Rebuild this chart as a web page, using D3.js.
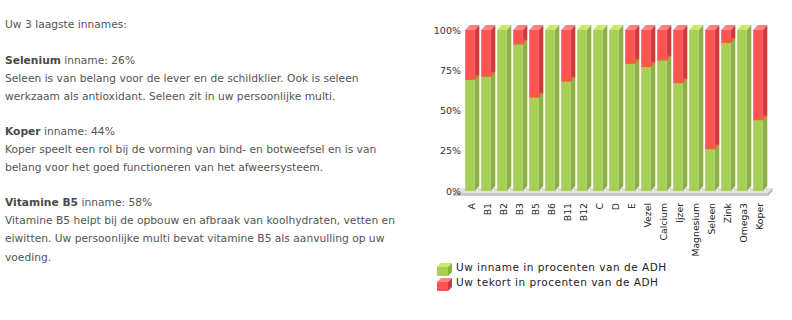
<!DOCTYPE html>
<html>
<head>
<meta charset="utf-8">
<script src="https://cdn.jsdelivr.net/npm/d3@7"></script>
<style>
  body { margin: 0; background: #fff; }
  svg text { font-family: "DejaVu Sans", Verdana, sans-serif; }
</style>
</head>
<body>
<div id="vis"></div>
<script>
// data
var categories = ["A", "B1", "B2", "B3", "B5", "B6", "B11", "B12", "C", "D", "E",
                  "Vezel", "Calcium", "Ijzer", "Magnesium", "Seleen", "Zink", "Omega3", "Koper"];
var inname = [69, 71, 100, 91, 58, 100, 68, 100, 100, 100, 79, 77, 81, 67, 100, 26, 92, 100, 44];
var tekort = [31, 29, 0, 9, 42, 0, 32, 0, 0, 0, 21, 23, 19, 33, 0, 74, 8, 0, 56];
var yTicks = [0, 25, 50, 75, 100];
var legendLabels = ["Uw inname in procenten van de ADH", "Uw tekort in procenten van de ADH"];

// left text block: [text, bold part]
var textLines = [
    { y: 28, bold: "", text: "Uw 3 laagste innames:" },
    { y: 64, bold: "Selenium", text: " inname: 26%" },
    { y: 82, bold: "", text: "Seleen is van belang voor de lever en de schildklier. Ook is seleen" },
    { y: 100, bold: "", text: "werkzaam als antioxidant. Seleen zit in uw persoonlijke multi." },
    { y: 135, bold: "Koper", text: " inname: 44%" },
    { y: 153, bold: "", text: "Koper speelt een rol bij de vorming van bind- en botweefsel en is van" },
    { y: 171, bold: "", text: "belang voor het goed functioneren van het afweersysteem." },
    { y: 206, bold: "Vitamine B5", text: " inname: 58%" },
    { y: 224, bold: "", text: "Vitamine B5 helpt bij de opbouw en afbraak van koolhydraten, vetten en" },
    { y: 242, bold: "", text: "eiwitten. Uw persoonlijke multi bevat vitamine B5 als aanvulling op uw" },
    { y: 261, bold: "", text: "voeding." }
];

var width = 792, height = 320;
var DX = 4.5, DY = 5;

var green = { front: "#a7cf55", side: "#8bb043", top: "#c6ec62" };
var red = { front: "#ff5252", side: "#cf3b3b", top: "#ff8484" };

var svg = d3.select("#vis").append("svg")
    .attr("width", width)
    .attr("height", height);

// text on the left
var tg = svg.append("g");
textLines.forEach(function(l) {
    var t = tg.append("text")
        .attr("x", 5)
        .attr("y", l.y)
        .attr("font-size", "10.7px")
        .attr("fill", "#545454");
    if (l.bold) {
        t.append("tspan").attr("font-weight", "bold").attr("fill", "#4a4a4a").text(l.bold);
    }
    t.append("tspan").text(l.text);
});

// scales
var x = d3.scaleBand()
    .domain(categories)
    .range([462, 766])
    .paddingInner(0.4)
    .paddingOuter(0.2);

var y = d3.scaleLinear()
    .domain([0, 100])
    .range([191, 30]);

var bw = x.bandwidth();

// floor
var y0 = y(0);
var fl = 453, fr = 768;
svg.append("polygon")
    .attr("points", [[fl, y0 + 2], [fr, y0 + 2], [fr + DX, y0 + 2 - DY], [fl + DX, y0 + 2 - DY]].join(" "))
    .attr("fill", "#e2e2e2");
svg.append("polygon")
    .attr("points", [[fl, y0 + 2], [fr, y0 + 2], [fr, y0 + 5], [fl, y0 + 5]].join(" "))
    .attr("fill", "#c9c9c9");
svg.append("polygon")
    .attr("points", [[fr, y0 + 2], [fr + DX, y0 + 2 - DY], [fr + DX, y0 + 5 - DY], [fr, y0 + 5]].join(" "))
    .attr("fill", "#b5b5b5");

// y axis labels
svg.append("g")
    .selectAll("text")
    .data(yTicks)
    .enter().append("text")
    .attr("x", 461)
    .attr("y", function(d) { return y(d) + 3.5; })
    .attr("text-anchor", "end")
    .attr("font-size", "9.5px")
    .attr("fill", "#333")
    .text(function(d) { return d + "%"; });

// draw one 3D box segment
function box(g, x0, yTop, yBot, c, showTop) {
    g.append("polygon")
        .attr("points", [[x0 + bw, yBot], [x0 + bw + DX, yBot - DY], [x0 + bw + DX, yTop - DY], [x0 + bw, yTop]].join(" "))
        .attr("fill", c.side);
    g.append("rect")
        .attr("x", x0).attr("y", yTop)
        .attr("width", bw).attr("height", yBot - yTop)
        .attr("fill", c.front);
    if (showTop) {
        g.append("polygon")
            .attr("points", [[x0, yTop], [x0 + bw, yTop], [x0 + bw + DX, yTop - DY], [x0 + DX, yTop - DY]].join(" "))
            .attr("fill", c.top);
    }
}

var bars = svg.append("g").selectAll("g")
    .data(categories)
    .enter().append("g")
    .each(function(cat, i) {
        var g = d3.select(this);
        var x0 = x(cat);
        var yg = y(inname[i]);
        box(g, x0, yg, y(0), green, tekort[i] === 0);
        if (tekort[i] > 0) {
            var yr = y(inname[i] + tekort[i]);
            box(g, x0, yr, yg, red, true);
            // green top seen through the red segment
            g.append("polygon")
                .attr("points", [[x0, yg], [x0 + bw, yg], [x0 + bw + DX, yg - DY], [x0 + DX, yg - DY]].join(" "))
                .attr("fill", "#f2603c")
                .attr("opacity", 0.85);
        }
    });

// x labels
svg.append("g")
    .selectAll("text")
    .data(categories)
    .enter().append("text")
    .attr("transform", function(d) {
        return "translate(" + (x(d) + bw / 2 + 5) + ",203) rotate(-90)";
    })
    .attr("text-anchor", "end")
    .attr("font-size", "9.3px")
    .attr("fill", "#222")
    .text(function(d) { return d; });

// legend
var lg = svg.append("g");
legendLabels.forEach(function(lab, i) {
    var ly = 263 + i * 15;
    var c = i === 0 ? green : red;
    var cx = 437, s = 11, d = 4;
    lg.append("rect").attr("x", cx).attr("y", ly + d).attr("width", s).attr("height", s - 2).attr("fill", c.front);
    lg.append("polygon")
        .attr("points", [[cx, ly + d], [cx + s, ly + d], [cx + s + d, ly], [cx + d, ly]].join(" "))
        .attr("fill", c.top);
    lg.append("polygon")
        .attr("points", [[cx + s, ly + d], [cx + s + d, ly], [cx + s + d, ly + s - 2], [cx + s, ly + s - 2 + d]].join(" "))
        .attr("fill", c.side);
    lg.append("text")
        .attr("x", 456)
        .attr("y", ly + 8)
        .attr("font-size", "10.5px")
        .attr("letter-spacing", "0.5px")
        .attr("fill", "#222")
        .text(lab);
});
</script>
</body>
</html>
